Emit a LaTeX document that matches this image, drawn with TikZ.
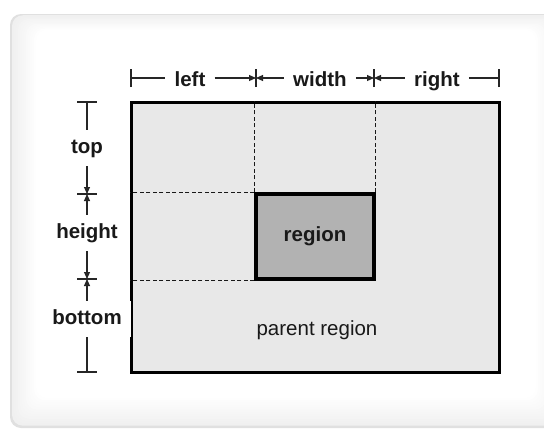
\documentclass[tikz,border=0pt]{standalone}
\usepackage{fontspec}
\setmainfont{Liberation Sans}
\usetikzlibrary{arrows.meta}

\begin{document}
\begin{tikzpicture}[x=1pt, y=-1pt,
		font=\fontsize{20.5}{24}\selectfont,
		dim/.style = {line width=1.1pt, black!85},
		tip/.tip = {Triangle[length=7pt, width=6pt]},
		lbl/.style = {font=\fontsize{20.5}{24}\selectfont\bfseries, fill=white, inner xsep=9pt,
			inner ysep=8.5pt, text height=15pt, text depth=4pt, text=black!90},
		parentbox/.style = {draw, line width=3pt, fill=black!9, minimum width=368pt, minimum height=270pt},
		regionbox/.style = {draw, line width=3.5pt, fill=black!30, minimum width=118pt, minimum height=85pt,
			font=\fontsize{20.5}{24}\selectfont\bfseries, text=black!90}]
	\useasboundingbox (0,0) rectangle (544,429);
	\fill[white] (0,0) rectangle (544,429);
	% soft panel
	\fill[black!12, rounded corners=11pt] (10,14) rectangle (570,428);
	\foreach \i [evaluate=\i as \g using 6.5-0.5*\i] in {1,...,13}
		\fill[black!\g, rounded corners=11pt] (10+2*\i, 14+1.2*\i) rectangle (562-2*\i, 428-2.3*\i);

	\node[parentbox] (parent) at (315,237) {};
	\node[text=black!90] (caption) at (317,330) {parent region};
	\node[regionbox] (region) at (315,236.5) {region};
	\draw[line width=1pt, black!90, dash pattern=on 4pt off 2.5pt]
		(region.north west) -- (region.north west |- parent.north)
		(region.north east) -- (region.north east |- parent.north)
		(region.north west) -- (region.north west -| parent.west)
		(region.south west) -- (region.south west -| parent.west);
	\node[regionbox] at (region) {region};

	% horizontal dimensions
	\coordinate (h0) at (131,78); \coordinate (h1) at (256,78);
	\coordinate (h2) at (374,78); \coordinate (h3) at (499,78);
	\node[lbl] (left) at (190,81) {left};
	\node[lbl] (width) at (320,81) {width};
	\node[lbl] (right) at (437,81) {right};
	\foreach \p in {h0,h1,h2,h3}
		\draw[dim] ([yshift=-9pt]\p) -- ([yshift=9pt]\p);
	\draw[dim] (h0) -- (h0 -| left.west);
	\draw[dim, -{tip}] (h1 -| left.east) -- (h1);
	\draw[dim, {tip}-] (h1) -- (h1 -| width.west);
	\draw[dim, -{tip}] (h2 -| width.east) -- (h2);
	\draw[dim, {tip}-] (h2) -- (h2 -| right.west);
	\draw[dim] (h3 -| right.east) -- (h3);

	% vertical dimensions
	\coordinate (v0) at (87,102); \coordinate (v1) at (87,194);
	\coordinate (v2) at (87,279); \coordinate (v3) at (87,372);
	\node[lbl] (top) at (87,148) {top};
	\node[lbl] (height) at (87,233) {height};
	\node[lbl] (bottom) at (87,319) {bottom};
	\foreach \p in {v0,v1,v2,v3}
		\draw[dim] ([xshift=-10pt]\p) -- ([xshift=10pt]\p);
	\draw[dim] (v0) -- (top.north);
	\draw[dim, -{tip}] (top.south) -- (v1);
	\draw[dim, -{tip}] (height.north) -- (v1);
	\draw[dim, -{tip}] (height.south) -- (v2);
	\draw[dim, -{tip}] (bottom.north) -- (v2);
	\draw[dim] (bottom.south) -- (v3);
\end{tikzpicture}
\end{document}
